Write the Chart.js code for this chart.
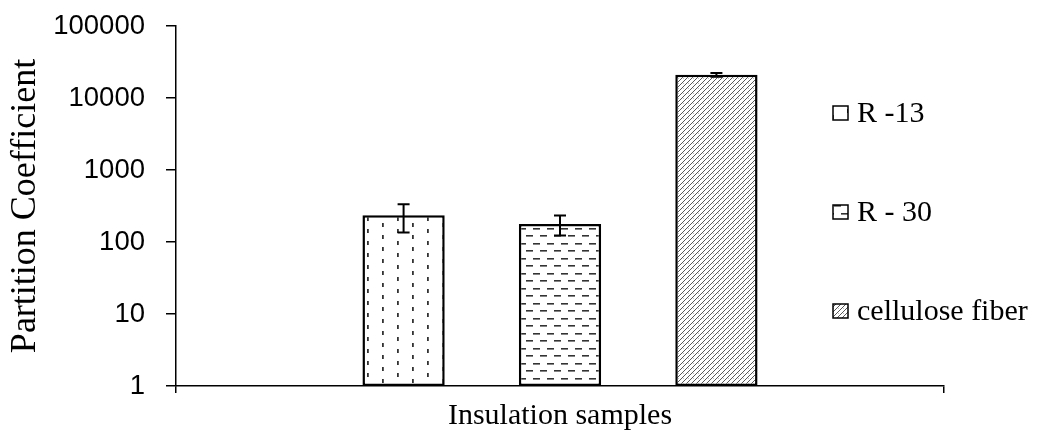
<!DOCTYPE html>
<html>
<head>
<meta charset="utf-8">
<script src="https://cdn.jsdelivr.net/npm/chart.js@4/dist/chart.umd.min.js"></script>
<style>
  html, body { margin: 0; padding: 0; background: #fff; }
  #wrap { width: 1040px; height: 434px; position: relative; }
</style>
</head>
<body>
<div id="wrap"><canvas id="partitionChart"></canvas></div>
<script>
// Data
const categories = ['Insulation samples'];
const seriesNames = ['R -13', 'R - 30', 'cellulose fiber'];
const r13Values = [235];
const r30Values = [178];
const celluloseValues = [21000];
const r13Errors = [100];
const r30Errors = [55];
const celluloseErrors = [1200];
const yTickValues = [1, 10, 100, 1000, 10000, 100000];

// pattern fills (vertical dashes, horizontal dashes, diagonal hatch)
function makePattern(w, h, draw) {
    const c = document.createElement('canvas');
    c.width = w;
    c.height = h;
    const g = c.getContext('2d');
    g.fillStyle = '#fff';
    g.fillRect(0, 0, w, h);
    draw(g);
    return g.createPattern(c, 'repeat');
}

const vDash = makePattern(30, 12, g => {
    g.fillStyle = '#333';
    g.fillRect(7, 1, 1.8, 4);
    g.fillRect(22, 7, 1.8, 4);
});

const hDash = makePattern(14, 15, g => {
    g.fillStyle = '#333';
    g.fillRect(1, 3, 7, 1.6);
    g.fillRect(8, 10, 6, 1.6);
    g.fillRect(0, 10, 1, 1.6);
});

const hatch = makePattern(5, 5, g => {
    g.strokeStyle = '#444';
    g.lineWidth = 0.9;
    g.beginPath();
    g.moveTo(-1, 6);
    g.lineTo(6, -1);
    g.stroke();
    g.fillStyle = '#bbb';
    g.fillRect(3, 3, 1, 1);
});

const errorData = [r13Errors, r30Errors, celluloseErrors];

// error bars drawn with the y scale
const errorBars = {
    id: 'errorBars',
    afterDatasetsDraw(chart) {
        const ctx = chart.ctx;
        const y = chart.scales.y;
        ctx.save();
        ctx.strokeStyle = '#000';
        ctx.lineWidth = 2;
        chart.data.datasets.forEach((ds, i) => {
            const meta = chart.getDatasetMeta(i);
            meta.data.forEach((bar, j) => {
                const v = ds.data[j];
                const e = errorData[i][j];
                const top = y.getPixelForValue(v + e);
                const bot = y.getPixelForValue(v - e);
                ctx.beginPath();
                ctx.moveTo(bar.x, top);
                ctx.lineTo(bar.x, bot);
                ctx.moveTo(bar.x - 6, top);
                ctx.lineTo(bar.x + 6, top);
                ctx.moveTo(bar.x - 6, bot);
                ctx.lineTo(bar.x + 6, bot);
                ctx.stroke();
            });
        });
        ctx.restore();
    }
};

// legend placed over the right side like the original
const sideLegend = {
    id: 'sideLegend',
    afterDraw(chart) {
        const ctx = chart.ctx;
        ctx.save();
        ctx.font = '30px "Liberation Serif", "Times New Roman", serif';
        ctx.textBaseline = 'middle';
        chart.data.datasets.forEach((ds, i) => {
            const cy = 113 + i * 99;
            ctx.fillStyle = ds.backgroundColor;
            ctx.fillRect(833, cy - 7, 15, 14);
            ctx.strokeStyle = '#000';
            ctx.lineWidth = 1.5;
            ctx.strokeRect(833, cy - 7, 15, 14);
            ctx.fillStyle = '#000';
            ctx.fillText(ds.label, 857, cy + 1);
        });
        ctx.restore();
    }
};

const ctx = document.getElementById('partitionChart').getContext('2d');
new Chart(ctx, {
    type: 'bar',
    data: {
        labels: categories,
        datasets: [
            { label: seriesNames[0], data: r13Values, backgroundColor: vDash },
            { label: seriesNames[1], data: r30Values, backgroundColor: hDash },
            { label: seriesNames[2], data: celluloseValues, backgroundColor: hatch }
        ].map(d => Object.assign(d, {
            borderColor: '#000',
            borderWidth: 2.5,
            borderSkipped: false,
            categoryPercentage: 0.611,
            barPercentage: 0.526
        }))
    },
    options: {
        responsive: true,
        maintainAspectRatio: false,
        animation: false,
        layout: { padding: { top: 26, right: 96, left: 0, bottom: 0 } },
        plugins: {
            legend: { display: false },
            tooltip: { enabled: false }
        },
        scales: {
            x: {
                ticks: { display: false },
                grid: {
                    drawOnChartArea: false,
                    drawTicks: true,
                    tickLength: 7,
                    color: '#000',
                    lineWidth: 1.5
                },
                border: { display: true, color: '#000', width: 1.5 },
                title: {
                    display: true,
                    text: 'Insulation samples',
                    color: '#000',
                    font: { family: '"Liberation Serif", "Times New Roman", serif', size: 30 },
                    padding: { top: 0, bottom: 0 }
                },
                afterFit(scale) { scale.height = 48; }
            },
            y: {
                type: 'logarithmic',
                min: 1,
                max: 100000,
                afterBuildTicks(scale) {
                    scale.ticks = yTickValues.map(v => ({ value: v }));
                },
                ticks: {
                    color: '#000',
                    padding: 21,
                    font: { family: '"Liberation Sans", Arial, sans-serif', size: 27.5 },
                    callback: value => String(value)
                },
                grid: {
                    drawOnChartArea: false,
                    drawTicks: true,
                    tickLength: 10,
                    color: '#000',
                    lineWidth: 1.5
                },
                border: { display: true, color: '#000', width: 1.5 },
                title: {
                    display: true,
                    text: 'Partition Coefficient',
                    color: '#000',
                    font: { family: '"Liberation Serif", "Times New Roman", serif', size: 36 }
                },
                afterFit(scale) {
                    scale.width = 176;
                    scale.paddingTop = 0;
                    scale.paddingBottom = 0;
                }
            }
        }
    },
    plugins: [errorBars, sideLegend]
});
</script>
</body>
</html>
